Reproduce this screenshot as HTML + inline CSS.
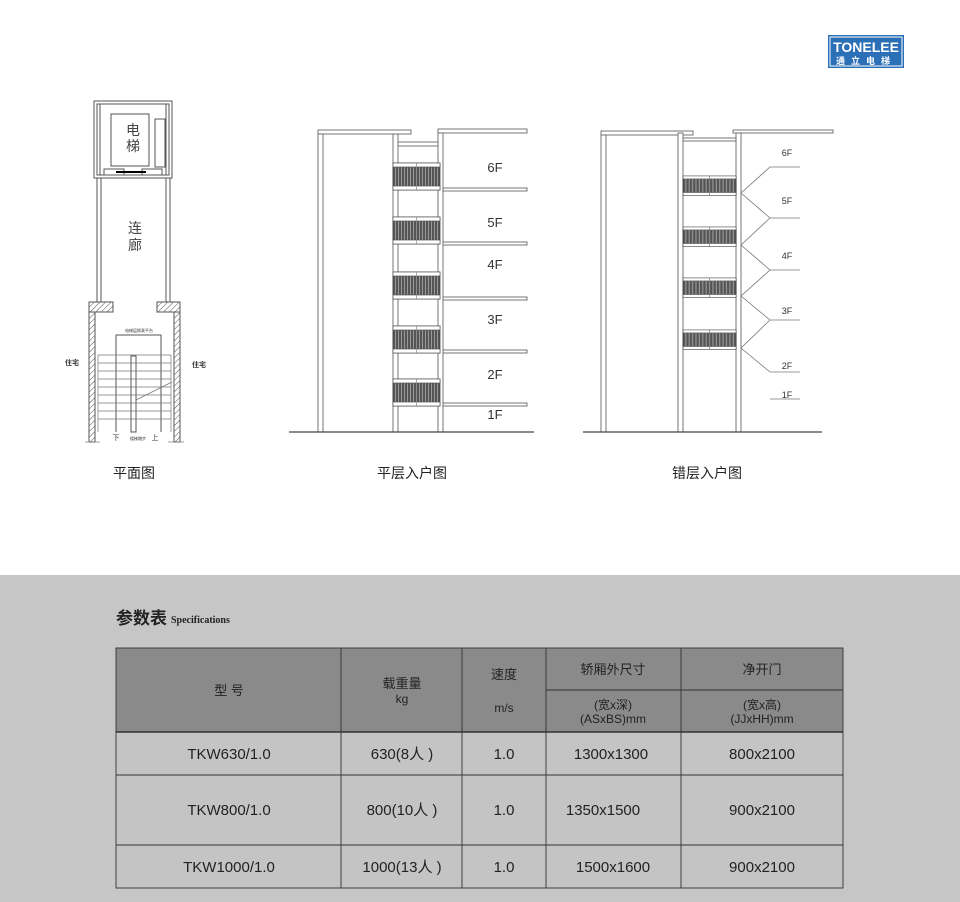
<!DOCTYPE html>
<html><head><meta charset="utf-8"><style>
html,body{margin:0;padding:0;}
body{width:960px;height:902px;position:relative;background:#fff;font-family:"Liberation Sans","Noto Sans CJK SC",sans-serif;overflow:hidden;}
svg{position:absolute;left:0;top:0;}
</style></head><body>
<svg width="960" height="902" viewBox="0 0 960 902" xmlns="http://www.w3.org/2000/svg" font-family="Liberation Sans, Noto Sans CJK SC, sans-serif">
<defs>
<pattern id="cab" width="3" height="10" patternUnits="userSpaceOnUse">
<rect width="3" height="10" fill="#555"/><rect x="2" width="1" height="10" fill="#999"/>
</pattern>
<pattern id="hatch" width="4" height="4" patternUnits="userSpaceOnUse" patternTransform="rotate(45)">
<rect width="4" height="4" fill="#fff"/><line x1="0" y1="0" x2="0" y2="4" stroke="#555" stroke-width="1"/>
</pattern>
<g id="cabin">
<rect x="0" y="0" width="47" height="27" fill="url(#cab)" stroke="#444" stroke-width="0.8"/>
<rect x="0" y="0" width="47" height="4" fill="#fff" stroke="#555" stroke-width="0.7"/>
<rect x="0" y="23" width="47" height="4" fill="#fff" stroke="#555" stroke-width="0.7"/>
<line x1="23.5" y1="0" x2="23.5" y2="27" stroke="#888" stroke-width="0.7"/>
</g>
</defs>

<!-- logo -->
<rect x="828" y="35" width="76" height="33" fill="#2b6fb6"/>
<rect x="830" y="37" width="72" height="29" fill="none" stroke="#fff" stroke-width="1"/>
<text x="866" y="52" font-size="14" font-weight="bold" fill="#fff" text-anchor="middle">TONELEE</text>
<text x="866" y="64" font-size="9" font-weight="bold" fill="#fff" text-anchor="middle" letter-spacing="6">通立电梯</text>

<!-- plan -->
<g stroke="#555" fill="none" stroke-width="1">
<rect x="94" y="101" width="78" height="77"/>
<rect x="97" y="104" width="72" height="71"/>
<rect x="111" y="114" width="38" height="52"/>
<rect x="155" y="119" width="10" height="48"/>
<line x1="100" y1="104" x2="100" y2="175"/><line x1="166" y1="104" x2="166" y2="175"/>
<rect x="104" y="169" width="20" height="6"/><rect x="142" y="169" width="20" height="6"/>
<line x1="116" y1="172" x2="146" y2="172" stroke="#000" stroke-width="2"/>
<rect x="97" y="178" width="4" height="124"/><rect x="166" y="178" width="4" height="124"/>
<rect x="89" y="302" width="24" height="10" fill="url(#hatch)"/>
<rect x="157" y="302" width="23" height="10" fill="url(#hatch)"/>
<rect x="89" y="312" width="6" height="130" fill="url(#hatch)"/>
<rect x="174" y="312" width="6" height="130" fill="url(#hatch)"/>
<path d="M116 432 V335 H161 V432"/>
<rect x="131" y="356" width="5" height="76"/>
</g>
<g stroke="#777" stroke-width="0.7">
<line x1="98" y1="355" x2="171" y2="355"/><line x1="98" y1="363" x2="171" y2="363"/><line x1="98" y1="371" x2="171" y2="371"/>
<line x1="98" y1="379" x2="171" y2="379"/><line x1="98" y1="387" x2="171" y2="387"/><line x1="98" y1="395" x2="171" y2="395"/>
<line x1="98" y1="403" x2="171" y2="403"/><line x1="98" y1="411" x2="171" y2="411"/><line x1="98" y1="419" x2="171" y2="419"/>
<line x1="98" y1="355" x2="98" y2="432"/><line x1="171" y1="355" x2="171" y2="432"/>
<line x1="136" y1="400" x2="172" y2="382"/>
<line x1="85" y1="442" x2="100" y2="442"/><line x1="168" y1="442" x2="184" y2="442"/>
</g>
<text x="133" y="135" font-size="14" fill="#444" text-anchor="middle">电</text>
<text x="133" y="151" font-size="14" fill="#444" text-anchor="middle">梯</text>
<text x="135" y="233" font-size="14" fill="#444" text-anchor="middle">连</text>
<text x="135" y="250" font-size="14" fill="#444" text-anchor="middle">廊</text>
<text x="139" y="332" font-size="4" fill="#333" text-anchor="middle">电梯层换乘平台</text>
<text x="138" y="440" font-size="4" fill="#333" text-anchor="middle">楼梯踏步</text>
<text x="116" y="440" font-size="7" fill="#333" text-anchor="middle">下</text>
<text x="155" y="440" font-size="7" fill="#333" text-anchor="middle">上</text>
<text x="72" y="365" font-size="7" font-weight="bold" fill="#333" text-anchor="middle">住宅</text>
<text x="199" y="367" font-size="7" font-weight="bold" fill="#333" text-anchor="middle">住宅</text>
<text x="134" y="478" font-size="14" fill="#222" text-anchor="middle">平面图</text>

<!-- flat entry -->
<g stroke="#666" fill="#fff" stroke-width="0.9">
<rect x="318" y="130" width="93" height="4"/>
<rect x="438" y="129" width="89" height="4"/>
<rect x="318" y="134" width="5" height="298"/>
<rect x="393" y="134" width="5" height="298"/>
<rect x="438" y="133" width="5" height="299"/>
<rect x="398" y="142" width="40" height="4"/>
</g>
<use href="#cabin" x="393" y="163"/><use href="#cabin" x="393" y="217"/><use href="#cabin" x="393" y="272"/><use href="#cabin" x="393" y="326"/><use href="#cabin" x="393" y="379"/>
<g stroke="#666" fill="#fff" stroke-width="0.9">
<rect x="443" y="188" width="84" height="3"/><rect x="443" y="242" width="84" height="3"/><rect x="443" y="297" width="84" height="3"/>
<rect x="443" y="350" width="84" height="3"/><rect x="443" y="403" width="84" height="3"/>
</g>
<line x1="289" y1="432" x2="534" y2="432" stroke="#444" stroke-width="1.2"/>
<g font-size="13" fill="#333" text-anchor="middle">
<text x="495" y="172">6F</text><text x="495" y="227">5F</text><text x="495" y="269">4F</text>
<text x="495" y="324">3F</text><text x="495" y="379">2F</text><text x="495" y="419">1F</text>
</g>
<text x="412" y="478" font-size="14" fill="#222" text-anchor="middle">平层入户图</text>

<!-- staggered entry -->
<g stroke="#666" fill="#fff" stroke-width="0.9">
<rect x="601" y="131" width="92" height="4"/>
<rect x="733" y="130" width="100" height="3"/>
<rect x="601" y="135" width="5" height="297"/>
<rect x="678" y="133" width="5" height="299"/>
<rect x="736" y="133" width="5" height="299"/>
<rect x="683" y="138" width="53" height="3"/>
</g>
<use href="#cabin" x="683" y="176" transform="translate(683 176) scale(1.13 0.72) translate(-683 -176)"/>
<use href="#cabin" x="683" y="227" transform="translate(683 227) scale(1.13 0.72) translate(-683 -227)"/>
<use href="#cabin" x="683" y="278" transform="translate(683 278) scale(1.13 0.72) translate(-683 -278)"/>
<use href="#cabin" x="683" y="330" transform="translate(683 330) scale(1.13 0.72) translate(-683 -330)"/>
<g stroke="#777" fill="none" stroke-width="0.8">
<polyline points="800,167 770,167 741,193 770,218 800,218"/>
<polyline points="770,218 741,245 770,270 800,270"/>
<polyline points="770,270 741,296 770,320 800,320"/>
<polyline points="770,320 741,348 770,372 800,372"/>
<line x1="770" y1="399" x2="800" y2="399"/>
</g>
<line x1="583" y1="432" x2="822" y2="432" stroke="#444" stroke-width="1.2"/>
<g font-size="9" fill="#333" text-anchor="middle">
<text x="787" y="156">6F</text><text x="787" y="204">5F</text><text x="787" y="259">4F</text>
<text x="787" y="314">3F</text><text x="787" y="369">2F</text><text x="787" y="398">1F</text>
</g>
<text x="707" y="478" font-size="14" fill="#222" text-anchor="middle">错层入户图</text>

<!-- gray section -->
<rect x="0" y="575" width="960" height="327" fill="#c6c6c6"/>
<text x="116" y="624" font-size="17" font-weight="bold" fill="#222">参数表</text>
<text x="171" y="623" font-size="10" font-weight="bold" fill="#222" font-family="Liberation Serif, serif">Specifications</text>

<rect x="116" y="648" width="727" height="84" fill="#8a8a8a"/>
<rect x="116" y="732" width="727" height="156" fill="#c4c4c4"/>
<g stroke="#333" stroke-width="0.9" fill="none">
<rect x="116" y="648" width="727" height="240"/>
<line x1="341" y1="648" x2="341" y2="888"/><line x1="462" y1="648" x2="462" y2="888"/>
<line x1="546" y1="648" x2="546" y2="888"/><line x1="681" y1="648" x2="681" y2="888"/>
<line x1="546" y1="690" x2="843" y2="690"/>
<line x1="116" y1="732" x2="843" y2="732" stroke-width="1.5"/>
<line x1="116" y1="775" x2="843" y2="775"/><line x1="116" y1="845" x2="843" y2="845"/>
</g>
<g font-size="13" fill="#222" text-anchor="middle">
<text x="229" y="695">型 号</text>
<text x="402" y="688">载重量</text><text x="402" y="703" font-size="12">kg</text>
<text x="504" y="679">速度</text><text x="504" y="712" font-size="12">m/s</text>
<text x="613" y="674">轿厢外尺寸</text><text x="613" y="709" font-size="12">(宽x深)</text><text x="613" y="723" font-size="12">(ASxBS)mm</text>
<text x="762" y="674">净开门</text><text x="762" y="709" font-size="12">(宽x高)</text><text x="762" y="723" font-size="12">(JJxHH)mm</text>
</g>
<g font-size="15" fill="#222" text-anchor="middle">
<text x="229" y="759">TKW630/1.0</text><text x="402" y="759">630(8人 )</text><text x="504" y="759">1.0</text><text x="611" y="759">1300x1300</text><text x="762" y="759">800x2100</text>
<text x="229" y="815">TKW800/1.0</text><text x="402" y="815">800(10人 )</text><text x="504" y="815">1.0</text><text x="603" y="815">1350x1500</text><text x="762" y="815">900x2100</text>
<text x="229" y="872">TKW1000/1.0</text><text x="402" y="872">1000(13人 )</text><text x="504" y="872">1.0</text><text x="613" y="872">1500x1600</text><text x="762" y="872">900x2100</text>
</g>
</svg>
</body></html>
